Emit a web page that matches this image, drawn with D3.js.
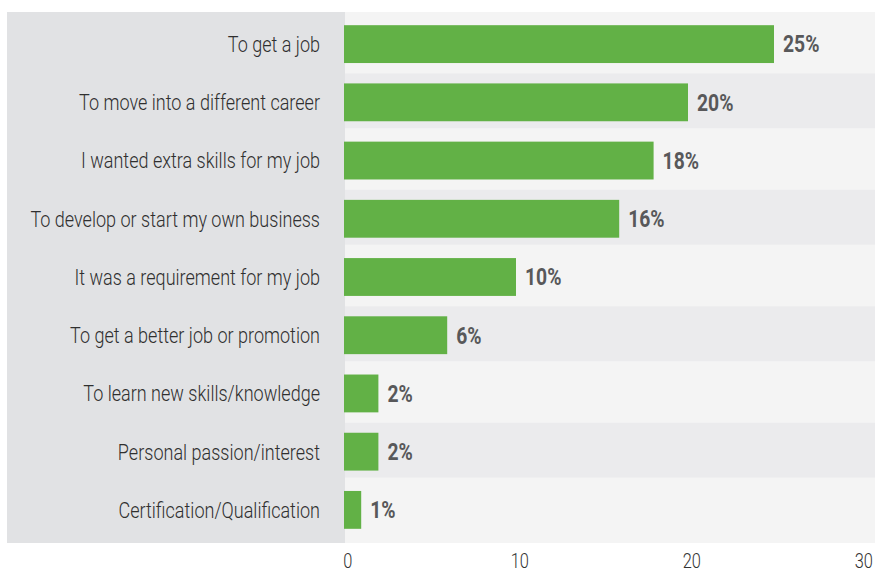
<!DOCTYPE html>
<html>
<head>
<meta charset="utf-8">
<script src="https://cdn.jsdelivr.net/npm/d3@7"></script>
<style>
  html, body { margin: 0; padding: 0; background: #ffffff; }
  svg { display: block; font-family: Roboto, "Noto Sans", sans-serif; }
</style>
</head>
<body>
<svg id="chart" width="875" height="572"></svg>
<script>
// Reasons for taking the course (share of respondents, %)
const categories = [
  "To get a job",
  "To move into a different career",
  "I wanted extra skills for my job",
  "To develop or start my own business",
  "It was a requirement for my job",
  "To get a better job or promotion",
  "To learn new skills/knowledge",
  "Personal passion/interest",
  "Certification/Qualification"
];
const values = [25, 20, 18, 16, 10, 6, 2, 2, 1];
const tickValues = [0, 10, 20, 30];

const svg = d3.select("#chart");
const panelLeft = 7, plotLeft = 345, plotRight = 875;
const plotTop = 12, plotBottom = 543;
const squeeze = 0.82; // horizontal compression for a condensed look

const x = d3.scaleLinear().domain([0, 30]).range([344, 860]);
const y = d3.scaleBand().domain(categories).range([15, 539])
  .paddingInner(0.35).paddingOuter(0.175);

// label panel
svg.append("rect").attr("x", panelLeft).attr("y", plotTop)
  .attr("width", plotLeft - panelLeft).attr("height", plotBottom - plotTop)
  .attr("fill", "#e1e2e4");

// plot background with alternating row bands
svg.append("rect").attr("x", plotLeft).attr("y", plotTop)
  .attr("width", plotRight - plotLeft).attr("height", plotBottom - plotTop)
  .attr("fill", "#f4f4f4");
svg.append("g").selectAll("rect")
  .data(categories.filter((d, i) => i % 2 === 1))
  .join("rect")
  .attr("x", plotLeft).attr("width", plotRight - plotLeft)
  .attr("y", d => y(d) - 10).attr("height", y.bandwidth() + 17)
  .attr("fill", "#ebebed");

// bars
svg.append("g").selectAll("rect")
  .data(values)
  .join("rect")
  .attr("x", x(0))
  .attr("y", (d, i) => y(categories[i]))
  .attr("width", d => x(d) - x(0))
  .attr("height", y.bandwidth())
  .attr("fill", "#62b146");

// category labels
svg.append("g").selectAll("g")
  .data(categories)
  .join("g")
  .attr("transform", d => `translate(320,${y(d) + y.bandwidth() / 2}) scale(${squeeze},1)`)
  .append("text")
  .attr("text-anchor", "end")
  .attr("dy", "0.36em")
  .attr("font-size", 22)
  .attr("font-weight", 300)
  .attr("fill", "#2f2f2f")
  .text(d => d);

// value labels
svg.append("g").selectAll("g")
  .data(values)
  .join("g")
  .attr("transform", (d, i) => `translate(${x(d) + 9},${y(categories[i]) + y.bandwidth() / 2}) scale(0.84,1)`)
  .append("text")
  .attr("dy", "0.36em")
  .attr("font-size", 23)
  .attr("font-weight", 700)
  .attr("fill", "#58585a")
  .text(d => d + "%");

// x axis
const axis = svg.append("g")
  .attr("transform", `translate(0,${plotBottom})`)
  .call(d3.axisBottom(x).tickValues(tickValues).tickSize(0).tickPadding(11));
axis.select(".domain").remove();
axis.selectAll("text")
  .attr("font-size", 20)
  .attr("font-weight", 300)
  .attr("font-family", "Roboto, sans-serif")
  .attr("fill", "#333333")
  .attr("transform", `translate(4,0)`);
axis.selectAll(".tick").each(function () {
  const t = d3.select(this);
  t.attr("transform", t.attr("transform") + ` scale(${squeeze},1)`);
});
</script>
</body>
</html>
